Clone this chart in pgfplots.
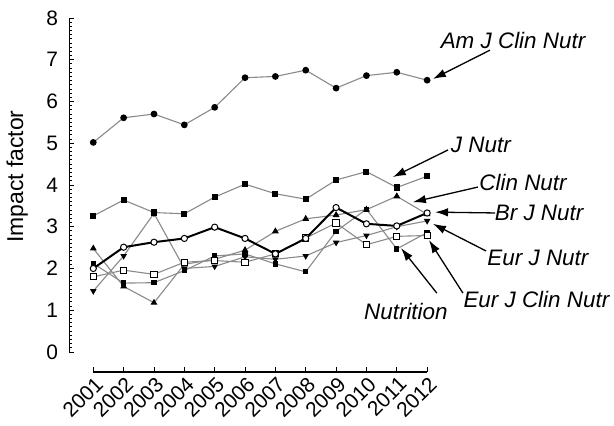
\documentclass[border=0pt]{standalone}
\usepackage{pgfplots}
\pgfplotsset{compat=1.18}
\usepackage{fontspec}
\setmainfont{Liberation Sans}
\usetikzlibrary{arrows.meta}
\definecolor{linegray}{HTML}{8A8A8A}
\begin{document}
\begin{tikzpicture}
\begin{axis}[
  x=30.35bp, y=41.75bp,
  xmin=-0.79, xmax=11, ymin=-0.48, ymax=8,
  axis x line*=bottom, axis y line*=left,
  axis line style={draw=none},
  clip=false,
  xtick={0,...,11},
  xticklabels={2001,2002,2003,2004,2005,2006,2007,2008,2009,2010,2011,2012},
  ytick={0,...,8}, minor y tick num=9,
  tick align=inside,
  major tick length=5bp, minor tick length=3bp,
  every tick/.style={black, line width=0.9bp},
  xticklabel style={inner sep=0pt, xshift=6bp, yshift=-8.5bp, rotate=45, anchor=east, font=\fontsize{21}{23}\selectfont},
  yticklabel style={inner sep=0pt, anchor=east, xshift=-11bp, font=\fontsize{21}{23}\selectfont},
  /pgf/number format/assume math mode=true,
]
% axis lines
\draw[black, line width=1.3bp] (axis cs:-0.79,0) -- (axis cs:-0.79,8);
\draw[black, line width=1.3bp] (axis cs:0,-0.48) -- (axis cs:11,-0.48);

% Am J Clin Nutr
\addplot[linegray, line width=1.1bp, mark=*, mark size=2.8bp, mark options={draw=black, fill=black, solid}]
 coordinates {(0,5.02) (1,5.61) (2,5.70) (3,5.44) (4,5.86) (5,6.57) (6,6.60) (7,6.75) (8,6.32) (9,6.62) (10,6.70) (11,6.51)};
% J Nutr
\addplot[linegray, line width=1.1bp, mark=square*, mark size=2.5bp, mark options={draw=black, fill=black}]
 coordinates {(0,3.26) (1,3.64) (2,3.34) (3,3.31) (4,3.71) (5,4.02) (6,3.79) (7,3.66) (8,4.12) (9,4.32) (10,3.94) (11,4.21)};
% Clin Nutr
\addplot[linegray, line width=1.1bp, mark=triangle*, mark size=2.9bp, mark options={draw=black, fill=black}]
 coordinates {(0,2.48) (1,1.57) (2,1.18) (3,2.10) (4,2.22) (5,2.44) (6,2.89) (7,3.19) (8,3.28) (9,3.41) (10,3.73) (11,3.30)};
% Eur J Nutr
\addplot[linegray, line width=1.1bp, mark=triangle*, mark size=2.7bp, mark options={draw=black, fill=black, rotate=180}]
 coordinates {(0,1.46) (1,2.30) (2,3.32) (3,2.00) (4,2.05) (5,2.28) (6,2.22) (7,2.30) (8,2.62) (9,2.79) (10,3.00) (11,3.14)};
% Nutrition
\addplot[linegray, line width=1.1bp, mark=square*, mark size=2.1bp, mark options={draw=black, fill=black}]
 coordinates {(0,2.12) (1,1.65) (2,1.66) (3,1.95) (4,2.30) (5,2.35) (6,2.11) (7,1.92) (8,2.89) (9,3.42) (10,2.47) (11,2.86)};
% Eur J Clin Nutr
\addplot[linegray, line width=1.1bp, mark=square*, mark size=3.1bp, mark options={draw=black, fill=white, line width=1bp}]
 coordinates {(0,1.80) (1,1.96) (2,1.86) (3,2.15) (4,2.19) (5,2.15) (6,2.35) (7,2.73) (8,3.09) (9,2.57) (10,2.77) (11,2.79)};
% Br J Nutr
\addplot[black, line width=2bp, mark=*, mark size=3.1bp, mark options={draw=black, fill=white, line width=1bp}]
 coordinates {(0,2.00) (1,2.51) (2,2.63) (3,2.72) (4,2.99) (5,2.72) (6,2.35) (7,2.72) (8,3.46) (9,3.07) (10,3.02) (11,3.33)};

% annotations
\tikzset{lab/.style={font=\itshape\fontsize{22.5}{25}\selectfont, inner sep=0pt},
         arr/.style={black, line width=1.3bp, -{Latex[length=13bp,width=8.5bp]}}}
\node[lab] at (axis cs:13.83,7.47) {Am J Clin Nutr};
\draw[arr] (axis cs:13.07,7.23) -- (axis cs:11.19,6.54);
\node[lab] at (axis cs:12.77,4.96) {J Nutr};
\draw[arr] (axis cs:11.69,4.84) -- (axis cs:9.87,4.19);
\node[lab] at (axis cs:14.16,4.05) {Clin Nutr};
\draw[arr] (axis cs:12.67,3.95) -- (axis cs:10.53,3.59);
\node[lab] at (axis cs:14.69,3.33) {Br J Nutr};
\draw[arr] (axis cs:13.24,3.33) -- (axis cs:11.26,3.35);
\node[lab] at (axis cs:14.65,2.25) {Eur J Nutr};
\draw[arr] (axis cs:12.94,2.42) -- (axis cs:11.19,3.07);
\node[lab] at (axis cs:14.60,1.25) {Eur J Clin Nutr};
\draw[arr] (axis cs:12.18,1.41) -- (axis cs:11.06,2.68);
\node[lab] at (axis cs:10.30,0.98) {Nutrition};
\draw[arr] (axis cs:11.32,1.41) -- (axis cs:10.14,2.49);

\node[rotate=90, font=\fontsize{23}{26}\selectfont] at (axis cs:-2.51,4.2) {Impact factor};

\coordinate (BL) at (axis cs:-3.074,-1.772);
\coordinate (TR) at (axis cs:17.157,8.431);
\end{axis}
\pgfresetboundingbox
\path (BL) rectangle (TR);
\end{tikzpicture}
\end{document}
